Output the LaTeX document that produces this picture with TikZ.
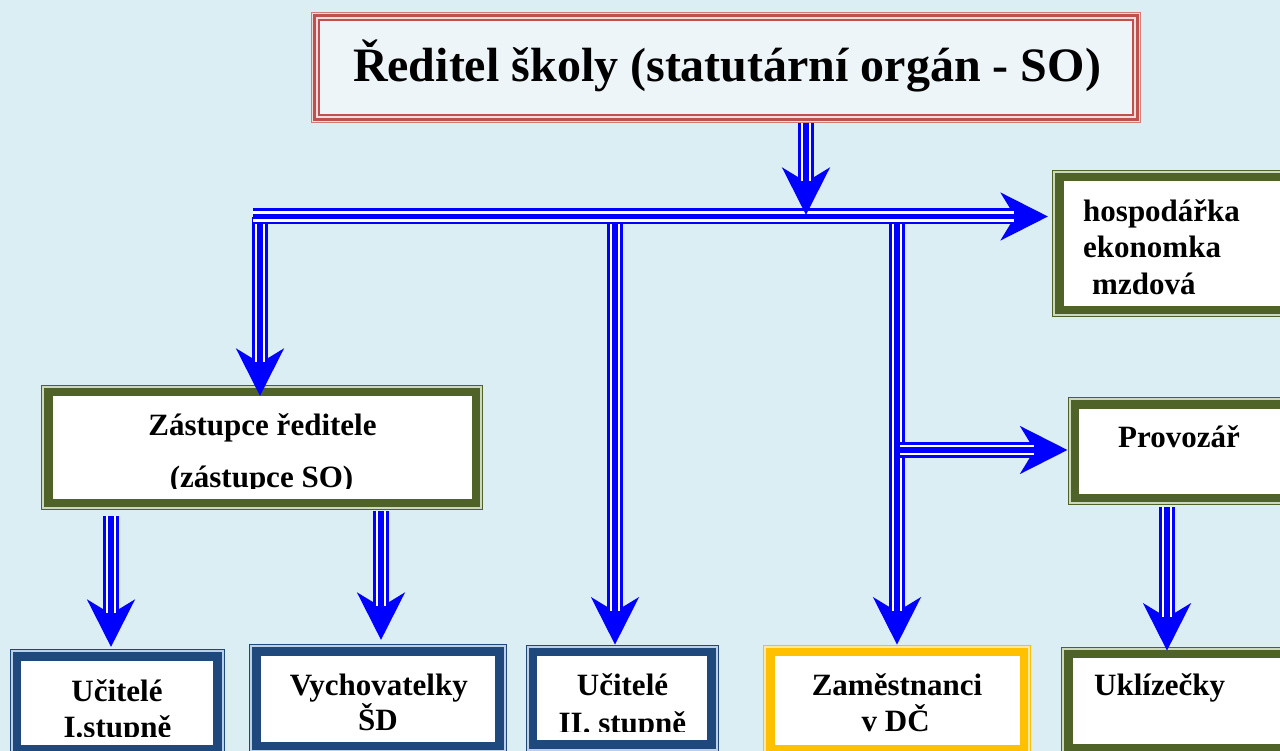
\documentclass[tikz,border=0pt]{standalone}
\usepackage{fontspec}
\setmainfont{Liberation Serif}
\usetikzlibrary{arrows.meta}
\definecolor{bg}{HTML}{DBEEF3}
\definecolor{rd}{HTML}{C0504D}
\definecolor{rdl}{HTML}{EFDCDC}
\definecolor{topfill}{HTML}{EDF5F8}
\definecolor{gn}{HTML}{4F6228}
\definecolor{gnl}{HTML}{CCD9C0}
\definecolor{bl}{HTML}{1F497D}
\definecolor{bll}{HTML}{BCD0E6}
\definecolor{yl}{HTML}{FFC000}
\definecolor{yll}{HTML}{FFE9A6}
\definecolor{arr}{HTML}{0000FF}
\tikzset{
  frame/.style 2 args={rectangle, inner sep=0pt, fill=white, draw=#1, line width=8.5pt,
    outer sep=7.25pt,
    preaction={draw=#1, line width=14.5pt},
    preaction={draw=#2, line width=12.5pt}},
  topframe/.style={rectangle, inner sep=0pt, fill=topfill, draw=rd, line width=2pt,
    outer sep=8pt,
    preaction={draw=rd!75, line width=16pt},
    preaction={draw=rdl, line width=14pt},
    preaction={draw=rd, line width=12pt},
    preaction={draw=rdl, line width=6pt}},
  tri/.style={draw=arr, line width=16pt,
    -{Stealth[length=47pt, width=47pt, inset=14pt]},
    postaction={draw=white, line width=10.5pt, -, shorten >=34pt},
    postaction={draw=arr, line width=5.5pt, -, shorten >=34pt}},
  lbl/.style={inner sep=0pt, anchor=base, font=\fontsize{31}{36}\selectfont\bfseries},
  lblw/.style={lbl, anchor=base west},
}
\begin{document}
\begin{tikzpicture}[x=1pt,y=-1pt]
\useasboundingbox (0,0) rectangle (1280,751);
\clip (0,0) rectangle (1280,751);
\fill[bg] (0,0) rectangle (1280,751);

% boxes
\node[topframe, minimum width=814pt, minimum height=95pt] (top) at (726,67.5) {};
\node[frame={gn}{gnl}, minimum width=233.5pt, minimum height=133pt] (hosp) at (1176,243.75) {};
\node[frame={gn}{gnl}, minimum width=218pt, minimum height=93.5pt] (prov) at (1183.75,451) {};
\node[frame={gn}{gnl}, minimum width=427.5pt, minimum height=111pt] (zast) at (262,447.25) {};
\node[frame={bl}{bll}, minimum width=200.5pt, minimum height=93pt] (uc1) at (117,702.75) {};
\node[frame={bl}{bll}, minimum width=243pt, minimum height=94.5pt] (vych) at (377.75,698.5) {};
\node[frame={bl}{bll}, minimum width=178.4pt, minimum height=92.3pt] (uc2) at (622.25,698.1) {};
\node[frame={yl}{yll}, minimum width=253.6pt, minimum height=97.3pt] (zam) at (897.35,700.6) {};
\node[frame={gn}{gnl}, minimum width=224.5pt, minimum height=94.3pt] (ukl) at (1180.5,701.1) {};

% texts
\node[inner sep=0pt, anchor=base, font=\fontsize{48}{56}\selectfont\bfseries] (toptxt) at (727,82) {Ředitel školy (statutární orgán - SO)};
\node[lblw] (hosp1) at (1083,221.7) {hospodářka};
\node[lblw] (hosp2) at (1083,257.7) {ekonomka};
\node[lblw] (hosp3) at (1092,294.3) {mzdová};
\node[lblw] (provtxt) at (1118,447.3) {Provozář};
\node[lbl] (zast1) at (262.5,435) {Zástupce ředitele};
\begin{scope}
  \clip (0,0) rectangle (1280,488.5);
  \node[lbl] (zast2) at (261.5,487) {(zástupce SO)};
\end{scope}
\node[lbl] (uc1a) at (117,701) {Učitelé};
\begin{scope}
  \clip (0,0) rectangle (1280,736);
  \node[lbl] (uc1b) at (117.5,737) {I.stupně};
\end{scope}
\node[lbl] (vycha) at (378.8,695) {Vychovatelky};
\node[lbl] (vychb) at (378,730) {ŠD};
\node[lbl] (uc2a) at (622.5,695.7) {Učitelé};
\begin{scope}
  \clip (0,0) rectangle (1280,731.7);
  \node[lbl] (uc2b) at (622.4,733) {II. stupně};
\end{scope}
\node[lbl] (zama) at (897,695.7) {Zaměstnanci};
\node[lbl] (zamb) at (895.7,731) {v DČ};
\node[lblw] (ukltxt) at (1094,695) {Uklízečky};

% connectors
\coordinate (barL) at (253,216.5);
\coordinate (j0) at (806,215);
\coordinate (bL) at (260,217);
\coordinate (bM) at (615,224);
\coordinate (bR) at (897,224);
\coordinate (bP) at (900,450);
\coordinate (zL) at (111,516);
\coordinate (zR) at (381,511);
\coordinate (pD) at (1167,507);

\draw[tri] (bL) -- ([yshift=-11.5pt]bL |- zast.north);
\draw[tri] (barL) -- ([xshift=-4pt]barL -| hosp.west);
\draw[tri] (top.south -| j0) -- (j0);
\draw[tri] (bM) -- (bM |- uc2.north);
\draw[tri] (bR) -- (bR |- zam.north);
\draw[tri] (bP) -- (bP -| prov.west);
\draw[tri] (zL) -- ([yshift=2pt]zL |- uc1.north);
\draw[tri] (zR) -- ([yshift=4pt]zR |- vych.north);
\draw[tri] (pD) -- ([yshift=-4pt]pD |- ukl.north);
\end{tikzpicture}
\end{document}
